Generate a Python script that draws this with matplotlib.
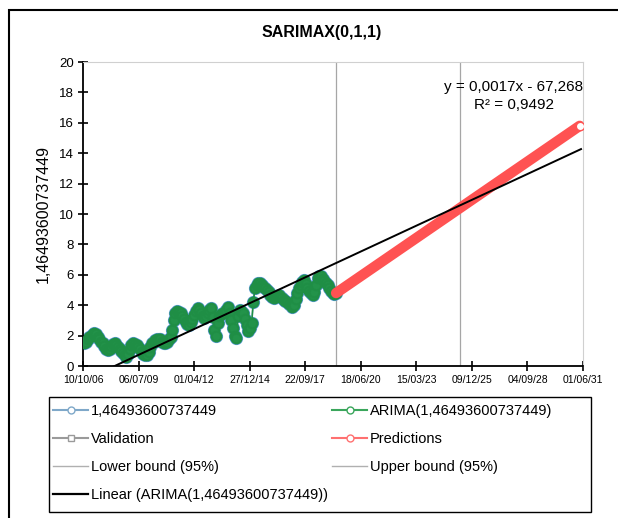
import matplotlib
matplotlib.use('Agg')
import matplotlib.pyplot as plt
import matplotlib.dates as mdates
from matplotlib.lines import Line2D
from matplotlib.patches import Rectangle
import pandas as pd
import numpy as np

plt.rcParams['font.family'] = ['Liberation Sans', 'DejaVu Sans']

# monthly values, Nov 2006 -> Mar 2019 (one row per year)
arima_vals = [
    1.5, 1.6, 1.8, 1.9, 2.0, 2.1, 2.2, 2.1, 1.9, 1.8, 1.6, 1.5,
    1.3, 1.15, 1.05, 1.15, 1.3, 1.45, 1.5, 1.4, 1.25, 1.1, 1.0, 0.85,
    0.7, 0.6, 0.8, 1.1, 1.35, 1.5, 1.45, 1.35, 1.25, 1.1, 0.95, 0.8,
    0.75, 0.7, 0.95, 1.25, 1.5, 1.6, 1.7, 1.75, 1.8, 1.75, 1.6, 1.5,
    1.5, 1.6, 1.75, 1.9, 2.4, 3.0, 3.5, 3.6, 3.55, 3.5, 3.3, 3.1,
    2.9, 2.75, 2.7, 2.9, 3.1, 3.35, 3.6, 3.8, 3.7, 3.5, 3.3, 3.15,
    3.3, 3.5, 3.7, 3.8, 3.2, 2.4, 2.0, 2.8, 3.3, 3.4, 3.5, 3.5,
    3.7, 3.85, 3.5, 3.0, 2.5, 2.0, 1.85, 3.3, 3.7, 3.6, 3.5, 3.1,
    2.7, 2.3, 2.5, 2.8, 4.2, 5.1, 5.3, 5.45, 5.45, 5.35, 5.2, 5.1,
    5.0, 4.9, 4.7, 4.55, 4.5, 4.55, 4.6, 4.65, 4.55, 4.45, 4.35, 4.3,
    4.2, 4.1, 4.0, 3.9, 4.0, 4.4, 4.8, 5.1, 5.3, 5.5, 5.65, 5.4,
    5.1, 4.95, 4.8, 4.65, 4.9, 5.3, 5.8, 5.95, 5.9, 5.75, 5.6, 5.45,
    5.3, 5.1, 4.95, 4.8, 4.75, 4.8,
]
arima_dates = pd.date_range('2006-11-01', periods=len(arima_vals), freq='MS')
actual_vals = arima_vals  # observed series lies under the fitted one

pred_dates = pd.to_datetime(['2019-04-01', '2031-04-01'])
pred_vals = [4.8, 15.8]

vline_dates = pd.to_datetime(['2019-03-30', '2025-05-09'])

trend_slope = 0.0017
trend_intercept = -67.268

label_series = '1,46493600737449'
eq_text = 'y = 0,0017x - 67,268\nR² = 0,9492'


def excel_date(serial):
    return pd.Timestamp('1899-12-30') + pd.to_timedelta(serial, 'D')


fig = plt.figure(figsize=(6.18, 5.18), dpi=100)
ax = fig.add_axes([0.1343, 0.2934, 0.8091, 0.5869])

# outer chart frame
fig.patches.append(Rectangle((9 / 618, -0.2), 1.2, 1.2 - 10 / 518,
                             transform=fig.transFigure, fill=False,
                             edgecolor='black', linewidth=1.5))

for d in vline_dates:
    ax.axvline(d, color='#a6a6a6', linewidth=0.9, zorder=1)

ax.plot(arima_dates, actual_vals, color='#5b9bd5', marker='o',
        markersize=8, mfc='white', mec='#5b9bd5', mew=1.5, linewidth=1, zorder=2)
ax.plot(arima_dates, arima_vals, color='#1f8e45', marker='o', markersize=7,
        mfc='#23934a', mec='#1f8e45', mew=1.5, linewidth=1.2, zorder=3)

ax.plot(pred_dates, pred_vals, color='#ff5252', linewidth=7.5,
        solid_capstyle='round', zorder=4)
ax.plot(pred_dates[1:], pred_vals[1:], linestyle='none', marker='o',
        markersize=6, mfc='white', mec='#ff5252', zorder=5)

tx = np.array([39000, 47964])
ax.plot([excel_date(s) for s in tx], trend_slope * tx + trend_intercept,
        color='black', linewidth=1.4, zorder=6)

ax.text(0.862, 0.888, eq_text, transform=ax.transAxes, ha='center', va='center',
        fontsize=11, linespacing=1.35)

ax.set_xlim(excel_date(39000), excel_date(48000))
ax.set_ylim(0, 20)
ax.set_xticks([excel_date(s) for s in range(39000, 48001, 1000)])
ax.xaxis.set_major_formatter(mdates.DateFormatter('%d/%m/%y'))
ax.set_yticks(range(0, 21, 2))
ax.tick_params(axis='x', direction='inout', length=7, width=1.2, labelsize=7.5, pad=3)
ax.tick_params(axis='y', direction='inout', length=7, width=1.2, labelsize=9.5, pad=3)
ax.spines['left'].set_linewidth(1.3)
ax.spines['bottom'].set_linewidth(1.3)
ax.spines['top'].set_color('#d0d0d0')
ax.spines['right'].set_color('#d0d0d0')
ax.set_ylabel(label_series, fontsize=11.5, labelpad=6)

fig.text(0.521, 0.938, 'SARIMAX(0,1,1)', ha='center', va='center',
         fontsize=11.5, fontweight='bold')

handles = [
    Line2D([], [], color='#7fa8c9', marker='o', mfc='white', markersize=5),
    Line2D([], [], color='#3aa65c', marker='o', mfc='white', markersize=5),
    Line2D([], [], color='#9a9a9a', marker='s', mfc='white', markersize=5),
    Line2D([], [], color='#ff7070', marker='o', mfc='white', markersize=5),
    Line2D([], [], color='#b0b0b0', linewidth=1),
    Line2D([], [], color='#b0b0b0', linewidth=1),
    Line2D([], [], color='black', linewidth=1.6),
]
labels = [label_series, 'ARIMA(' + label_series + ')', 'Validation', 'Predictions',
          'Lower bound (95%)', 'Upper bound (95%)', 'Linear (ARIMA(' + label_series + '))']
order = [0, 2, 4, 6, 1, 3, 5]
fig.legend([handles[i] for i in order], [labels[i] for i in order], ncol=2,
           loc='upper left', bbox_to_anchor=(53 / 618, 1 - 404 / 518),
           fontsize=10.5, frameon=False, handlelength=2.4,
           labelspacing=0.97, borderaxespad=0, handletextpad=0.2,
           columnspacing=0.3, borderpad=0)
# legend box
fig.patches.append(Rectangle((49 / 618, 1 - 512 / 518), 542 / 618, 115 / 518,
                             transform=fig.transFigure, fill=False,
                             edgecolor='black', linewidth=1.0))

fig.savefig('out.png', dpi=100)
